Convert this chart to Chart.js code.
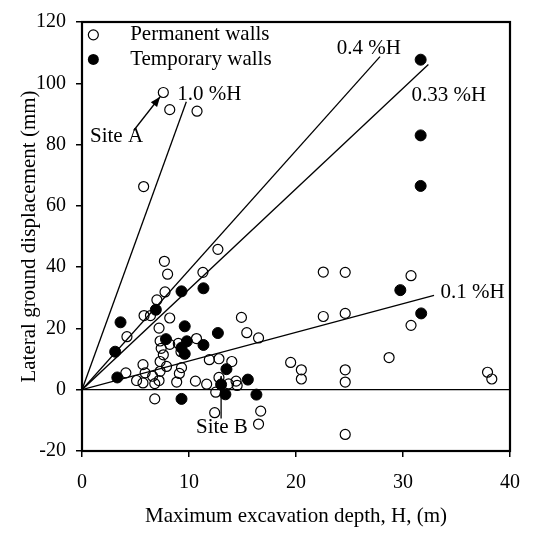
<!DOCTYPE html>
<html><head><meta charset="utf-8">
<script src="https://cdn.jsdelivr.net/npm/chart.js@4.4.1/dist/chart.umd.min.js"></script>
<style>html,body{margin:0;padding:0;background:#fff}</style>
</head><body>
<canvas id="c" width="534" height="537"></canvas>
<script>
// Permanent walls (open circles)
const permX = [7.6,8.2,10.75,5.76,12.7,7.7,8.0,11.3,7.76,7.0,5.8,6.4,8.2,4.2,7.2,14.9,15.4,16.5,10.7,
  7.3,7.4,8.2,9.0,9.25,7.6,11.9,12.8,14.0,7.3,5.7,4.1,5.1,5.7,5.9,6.6,6.8,7.2,7.3,7.9,8.85,9.1,9.3,10.6,11.65,12.5,12.8,13.7,14.4,14.5,6.8,12.4,16.7,16.5,
  22.55,24.6,30.75,30.75,22.55,24.6,28.7,19.5,20.5,20.5,24.6,24.6,37.9,38.3,24.6];
const permY = [97,91.4,90.9,66.3,45.8,41.9,37.7,38.3,31.9,29.3,24.2,24.2,23.4,17.3,20.1,23.6,18.6,16.9,16.7,
  15.9,13.5,14.8,15.1,12.4,11.4,9.8,10.1,9.2,9.2,8.2,5.5,3.0,2.2,5.5,4.4,2.0,3.0,6.0,7.6,2.5,5.3,7.2,2.8,1.8,-0.8,4.0,1.9,2.8,1.4,-3.0,-7.5,-7.0,-11.2,
  38.4,38.3,37.2,21,23.9,24.9,10.5,8.9,6.5,3.5,6.5,2.5,5.7,3.5,-14.6];
// Temporary walls (filled circles)
const tempX = [31.65,31.65,31.65,29.75,31.7,9.3,11.35,6.9,3.6,9.6,12.7,3.1,11.35,7.85,9.8,9.3,9.6,13.5,3.3,15.5,13.0,13.4,16.3,9.3];
const tempY = [107.7,83,66.5,32.5,24.9,32.1,33.1,26.1,22.0,20.7,18.5,12.4,14.6,16.5,15.8,13.7,11.7,6.7,4.0,3.3,1.7,-1.5,-1.6,-3.0];
// Reference lines (%H) end points
const line10X = [0,9.75],  line10Y = [0,94];
const line04X = [0,27.85], line04Y = [0,108.7];
const line033X = [0,32.37], line033Y = [0,106.1];
const line01X = [0,32.9],  line01Y = [0,30.8];
const zeroX = [0,40], zeroY = [0,0];
// Axis ticks
const xTicks = [0,10,20,30,40];
const yTicks = [-20,0,20,40,60,80,100,120];
const seriesNames = ['Permanent walls','Temporary walls'];
const lineLabels = ['1.0 %H','0.4 %H','0.33 %H','0.1 %H'];
const siteLabels = ['Site A','Site B'];

const pts = (xs, ys) => xs.map((v,i)=>({x:v,y:ys[i]}));
const FONT = '"Liberation Serif", "Times New Roman", serif';

function lineDs(xs, ys){
  return {type:'line', data:pts(xs,ys), borderColor:'#000', borderWidth:1.3, pointRadius:0, fill:false, showLine:true, order:2};
}

const annot = {
  id:'annot',
  afterDatasetsDraw(chart){
    const {ctx, chartArea:a, scales:{x, y}} = chart;
    ctx.save();
    ctx.strokeStyle = '#000';
    ctx.lineWidth = 2.2;
    ctx.strokeRect(a.left, a.top, a.right - a.left, a.bottom - a.top);
    ctx.fillStyle = '#000';
    ctx.font = '21px ' + FONT;
    ctx.textBaseline = 'middle';
    ctx.textAlign = 'left';
    const lp = [[8.9,96.2],[23.8,111.3],[30.8,95.9],[33.5,31.7]];
    lineLabels.forEach((t,i)=> ctx.fillText(t, x.getPixelForValue(lp[i][0]), y.getPixelForValue(lp[i][1])));
    const sp = [[0.75,82.5],[10.65,-12.2]];
    siteLabels.forEach((t,i)=> ctx.fillText(t, x.getPixelForValue(sp[i][0]), y.getPixelForValue(sp[i][1])));
    function arrow(x0,y0,x1,y1){
      const p0=[x.getPixelForValue(x0), y.getPixelForValue(y0)];
      const p1=[x.getPixelForValue(x1), y.getPixelForValue(y1)];
      ctx.lineWidth=1.3;
      ctx.beginPath(); ctx.moveTo(p0[0],p0[1]); ctx.lineTo(p1[0],p1[1]); ctx.stroke();
      const ang=Math.atan2(p1[1]-p0[1], p1[0]-p0[0]);
      const L=10, W=4;
      ctx.beginPath();
      ctx.moveTo(p1[0],p1[1]);
      ctx.lineTo(p1[0]-L*Math.cos(ang)+W*Math.sin(ang), p1[1]-L*Math.sin(ang)-W*Math.cos(ang));
      ctx.lineTo(p1[0]-L*Math.cos(ang)-W*Math.sin(ang), p1[1]-L*Math.sin(ang)+W*Math.cos(ang));
      ctx.closePath(); ctx.fill();
    }
    arrow(4.83,84.6,7.3,95.6);
    arrow(13.0,-9.4,13.0,4.5);
    const lx = x.getPixelForValue(1.06);
    const tx = x.getPixelForValue(4.5);
    const ly1 = y.getPixelForValue(115.8), ly2 = y.getPixelForValue(107.8);
    ctx.lineWidth=1.2;
    ctx.beginPath(); ctx.arc(lx, ly1, 5, 0, Math.PI*2); ctx.stroke();
    ctx.beginPath(); ctx.arc(lx, ly2, 5.5, 0, Math.PI*2); ctx.fill();
    ctx.fillText(seriesNames[0], tx, ly1);
    ctx.fillText(seriesNames[1], tx, ly2);
    ctx.restore();
  }
};

new Chart(document.getElementById('c'), {
  type:'scatter',
  data:{datasets:[
    lineDs(zeroX,zeroY), lineDs(line10X,line10Y), lineDs(line04X,line04Y), lineDs(line033X,line033Y), lineDs(line01X,line01Y),
    {label:seriesNames[0], data:pts(permX,permY), pointRadius:5, pointBorderWidth:1.2, pointBorderColor:'#000', pointBackgroundColor:'rgba(255,255,255,0)', order:1},
    {label:seriesNames[1], data:pts(tempX,tempY), pointRadius:5.5, pointBorderWidth:1, pointBorderColor:'#000', pointBackgroundColor:'#000', order:0}
  ]},
  options:{
    responsive:false, animation:false,
    layout:{padding:{left:0, top:15, right:24, bottom:0}},
    plugins:{legend:{display:false}, tooltip:{enabled:false}},
    scales:{
      x:{type:'linear', min:0, max:40,
        afterBuildTicks(s){ s.ticks = xTicks.map(v=>({value:v})); },
        afterFit(s){ s.height = 86; },
        ticks:{color:'#000', font:{family:FONT, size:20}, padding:14},
        grid:{display:true, drawOnChartArea:false, drawTicks:true, tickLength:6, color:'#000', lineWidth:1.5},
        border:{display:false},
        title:{display:true, text:'Maximum excavation depth, H, (m)', color:'#000', font:{family:FONT, size:21}, padding:{top:0,bottom:8}}
      },
      y:{type:'linear', min:-20, max:120,
        afterBuildTicks(s){ s.ticks = yTicks.map(v=>({value:v})); },
        afterFit(s){ s.width = 82; },
        ticks:{color:'#000', font:{family:FONT, size:20}, padding:10},
        grid:{display:true, drawOnChartArea:false, drawTicks:true, tickLength:6, color:'#000', lineWidth:1.5},
        border:{display:false},
        title:{display:true, text:'Lateral ground displacement (mm)', color:'#000', font:{family:FONT, size:21}, padding:{top:17,bottom:0}}
      }
    }
  },
  plugins:[annot]
});
</script>
</body></html>
